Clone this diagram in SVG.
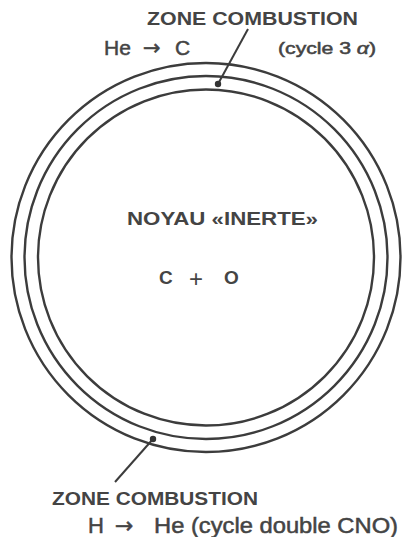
<svg xmlns="http://www.w3.org/2000/svg" width="403" height="537" viewBox="0 0 403 537">
<style>
.ring{fill:none;stroke:#3c3c3c;stroke-width:2.4}
.lead{fill:none;stroke:#3c3c3c;stroke-width:2}
.dot{fill:#333}
text{font-family:"Liberation Sans",Arial,sans-serif;fill:#444}
.b{font-weight:bold}
.m{stroke:#444;stroke-width:0.5}
.ar{font-family:"DejaVu Sans",sans-serif}
</style>
<rect width="403" height="537" fill="#fff"/>
<g id="star">
<circle class="ring" cx="206" cy="257.5" r="194.5"/>
<circle class="ring" cx="206" cy="257.5" r="181.5"/>
<circle class="ring" cx="206" cy="257.5" r="168"/>
</g>
<g id="core">
<text class="b" x="127" y="225" font-size="19" textLength="191" lengthAdjust="spacingAndGlyphs">NOYAU «INERTE»</text>
<text class="b" x="159" y="284" font-size="19">C</text>
<text x="189" y="287" font-size="24" fill="#222">+</text>
<text class="b" x="224" y="284" font-size="19">O</text>
</g>
<g id="zone-he">
<text class="b" x="147" y="25" font-size="18" textLength="211" lengthAdjust="spacingAndGlyphs">ZONE  COMBUSTION</text>
<text class="m" y="55" font-size="21"><tspan x="104">He</tspan><tspan class="ar" x="143" font-size="21">→</tspan><tspan x="175">C</tspan></text>
<text class="m" x="278" y="54" font-size="16" textLength="98" lengthAdjust="spacingAndGlyphs">(cycle 3 <tspan font-style="italic">α</tspan>)</text>
</g>
<g id="zone-h">
<text class="b" x="52" y="505" font-size="18" textLength="206" lengthAdjust="spacingAndGlyphs">ZONE COMBUSTION</text>
<text class="m" y="533" font-size="22"><tspan x="88">H</tspan><tspan class="ar" x="115" font-size="22">→</tspan></text>
<text class="m" x="154" y="533" font-size="22" textLength="244" lengthAdjust="spacingAndGlyphs">He (cycle double CNO)</text>
</g>
<g id="connectors">
<line class="lead" x1="248" y1="29" x2="218" y2="84"/>
<circle class="dot" cx="218" cy="84" r="3.2"/>
<line class="lead" x1="115" y1="482" x2="153" y2="439"/>
<circle class="dot" cx="153" cy="439" r="3.2"/>
</g>
</svg>
